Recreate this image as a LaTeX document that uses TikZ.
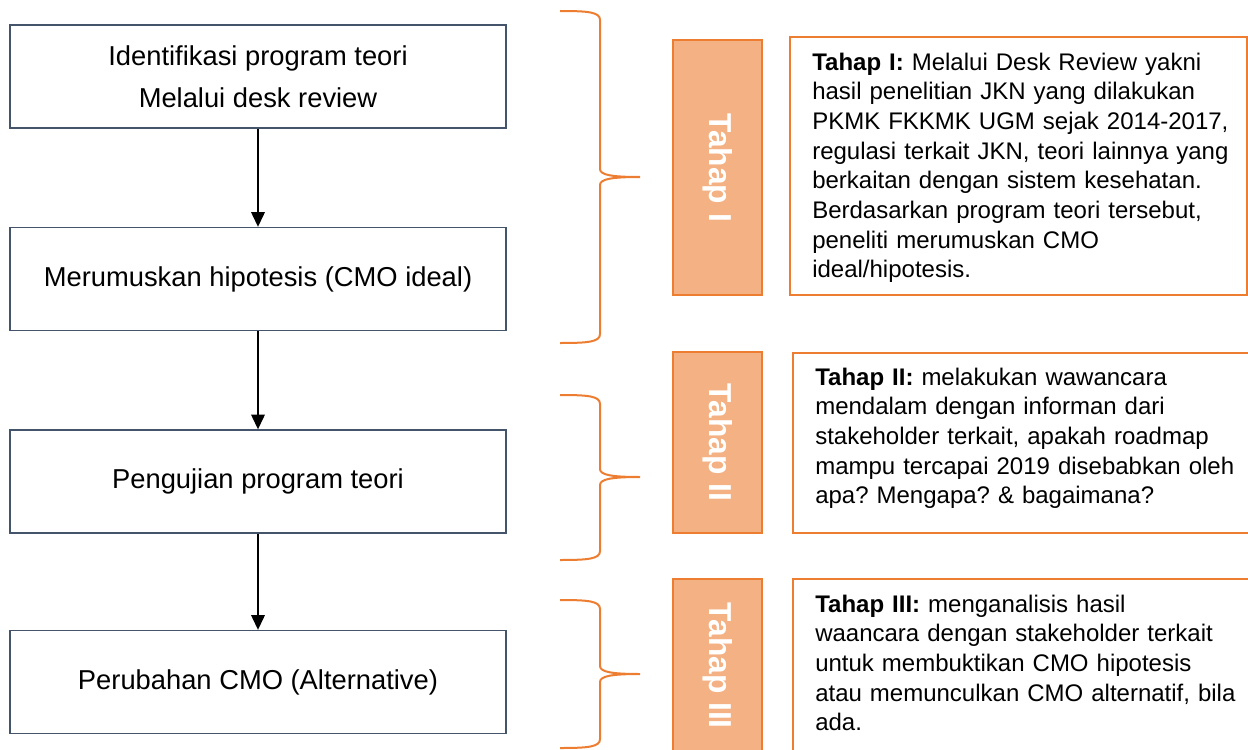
\documentclass[tikz,border=0pt]{standalone}
\usepackage{fontspec}
\setmainfont{Liberation Sans}
\usetikzlibrary{arrows.meta}
\definecolor{boxline}{HTML}{44546A}
\definecolor{orline}{HTML}{ED7D31}
\definecolor{orfill}{HTML}{F4B183}
\frenchspacing
\newcommand{\curlybr}[3]{%
  \draw[bracestyle] (560,#1) .. controls (588,#1) and (600,{#1+1}) .. (600,{#1+9})
    -- (600,{#2-8}) .. controls (600,{#2-2}) and (612,#2) .. (640,#2)
    .. controls (612,#2) and (600,{#2+2}) .. (600,{#2+8})
    -- (600,{#3-9}) .. controls (600,{#3-1}) and (588,#3) .. (560,#3);}
\begin{document}
\begin{tikzpicture}[x=0.75pt,y=-0.75pt,
  stepbox/.style={draw=boxline,line width=1.2pt,fill=white,minimum width=372pt,minimum height=77pt,inner sep=0pt,font=\fontsize{20.5}{31.5}\selectfont,align=center},
  flow/.style={-{Triangle[width=10pt,length=11pt]},line width=1.6pt,black},
  tahap/.style={draw=orline,fill=orfill,line width=2pt,rotate=-90,text=white,font=\bfseries\fontsize{23.8}{28}\selectfont,inner sep=0pt,minimum height=66.75pt},
  descbox/.style={draw=orline,line width=1.5pt,fill=white,inner sep=0pt},
  desctext/.style={anchor=base west,inner sep=0pt,text width=320pt,align=left,font=\fontsize{18}{22.25}\selectfont},
  bracestyle/.style={draw=orline,line width=1.5pt}]
\useasboundingbox (0,0) rectangle (1248,749);
% left flow boxes
\node[stepbox] (s1) at (258,76.5) {Identifikasi program teori\\Melalui desk review};
\node[stepbox] (s2) at (258,279) {Merumuskan hipotesis (CMO ideal)};
\node[stepbox] (s3) at (258,481.5) {Pengujian program teori};
\node[stepbox] (s4) at (258,682) {Perubahan CMO (Alternative)};
\draw[flow] (s1) -- (s2);
\draw[flow] (s2) -- (s3);
\draw[flow] (s3) -- (s4);
% braces
\curlybr{11}{177}{343}
\curlybr{395}{477}{560}
\curlybr{600}{674}{748}
% tahap labels
\node[tahap,minimum width=191.25pt] (t1) at (717.5,167.5) {Tahap I};
\node[tahap,minimum width=135.75pt] (t2) at (717.5,442.5) {Tahap II};
\node[tahap,minimum width=129.75pt] (t3) at (717.5,665.5) {Tahap III};
% description boxes
\node[descbox,minimum width=342.75pt,minimum height=193.5pt] (d1) at (1018.5,166) {};
\node[descbox,minimum width=344.25pt,minimum height=135pt] (d2) at (1022.5,443) {};
\node[descbox,minimum width=344.25pt,minimum height=129.75pt] (d3) at (1022.5,665.5) {};
\node[desctext] (x1) at (812,70) {\textbf{Tahap I:} Melalui Desk Review yakni\\hasil penelitian JKN yang dilakukan\\PKMK FKKMK UGM sejak 2014-2017,\\regulasi terkait JKN, teori lainnya yang\\berkaitan dengan sistem kesehatan.\\Berdasarkan program teori tersebut,\\peneliti merumuskan CMO\\ideal/hipotesis.};
\node[desctext] (x2) at (815,385) {\textbf{Tahap II:} melakukan wawancara\\mendalam dengan informan dari\\stakeholder terkait, apakah roadmap\\mampu tercapai 2019 disebabkan oleh\\apa? Mengapa? \& bagaimana?};
\node[desctext] (x3) at (815,612) {\textbf{Tahap III:} menganalisis hasil\\waancara dengan stakeholder terkait\\untuk membuktikan CMO hipotesis\\atau memunculkan CMO alternatif, bila\\ada.};
\end{tikzpicture}
\end{document}
